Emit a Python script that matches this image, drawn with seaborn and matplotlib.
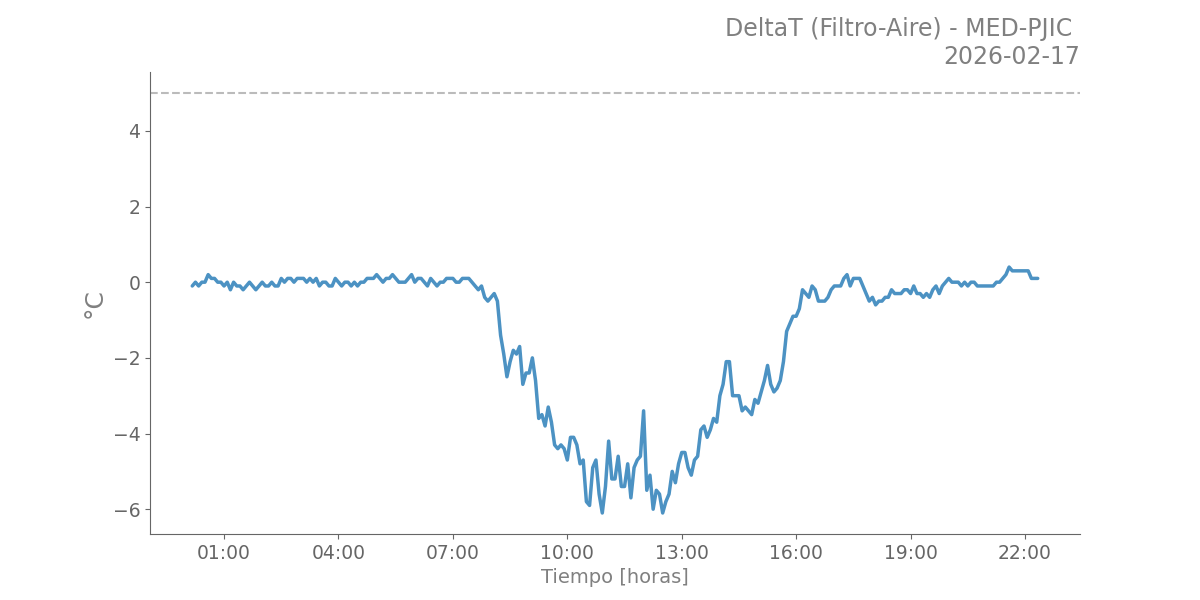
import pandas as pd
import matplotlib
matplotlib.use('Agg')
import matplotlib.pyplot as plt
import matplotlib.dates as mdates
import seaborn as sns

# Plot style settings
sns.set_style('ticks')
plt.rcParams['font.family'] = ['DejaVu Sans']

# Data: DeltaT (Filtro - Aire), one reading every 5 minutes from 00:10
start_time = '2026-02-17 00:10'
delta_t = [
    -0.1, 0, -0.1, 0, 0, 0.2, 0.1, 0.1, 0, 0,
    -0.1, 0, -0.2, 0, -0.1, -0.1, -0.2, -0.1, 0, -0.1,
    -0.2, -0.1, 0, -0.1, -0.1, 0, -0.1, -0.1, 0.1, 0,
    0.1, 0.1, 0, 0.1, 0.1, 0.1, 0, 0.1, 0, 0.1,
    -0.1, 0, 0, -0.1, -0.1, 0.1, 0, -0.1, 0, 0,
    -0.1, 0, -0.1, 0, 0, 0.1, 0.1, 0.1, 0.2, 0.1,
    0, 0.1, 0.1, 0.2, 0.1, 0, 0, 0, 0.1, 0.2,
    0, 0.1, 0.1, 0, -0.1, 0.1, 0, -0.1,
    0, 0, 0.1, 0.1, 0.1, 0, 0, 0.1, 0.1, 0.1, 0, -0.1,
    -0.2, -0.1, -0.4, -0.5, -0.4, -0.3, -0.5, -1.4, -1.9, -2.5,
    -2.1, -1.8, -1.9, -1.7, -2.7, -2.4, -2.4, -2.0, -2.6, -3.6,
    -3.5, -3.8, -3.3, -3.7, -4.3, -4.4,
    -4.3, -4.4, -4.7, -4.1, -4.1, -4.3, -4.8, -4.7, -5.8, -5.9,
    -4.9, -4.7, -5.6, -6.1, -5.4, -4.2, -5.2, -5.2, -4.6, -5.4,
    -5.4, -4.8, -5.7, -4.9, -4.7, -4.6, -3.4, -5.5, -5.1, -6.0,
    -5.5, -5.6, -6.1, -5.8, -5.6, -5.0, -5.3, -4.8, -4.5, -4.5,
    -4.9, -5.1, -4.7, -4.6, -3.9, -3.8, -4.1, -3.9, -3.6, -3.7,
    -3.0, -2.7, -2.1, -2.1, -3.0, -3.0, -3.0, -3.4, -3.3, -3.4,
    -3.5, -3.1, -3.2, -2.9, -2.6, -2.2, -2.7, -2.9, -2.8, -2.6,
    -2.1, -1.3, -1.1, -0.9, -0.9, -0.7, -0.2, -0.3, -0.4, -0.1,
    -0.2, -0.5, -0.5, -0.5, -0.4, -0.2, -0.1, -0.1, -0.1, 0.1,
    0.2, -0.1, 0.1, 0.1, 0.1, -0.1, -0.3, -0.5, -0.4, -0.6,
    -0.5, -0.5, -0.4, -0.4, -0.2, -0.3, -0.3, -0.3, -0.2, -0.2,
    -0.3, -0.1, -0.3, -0.3, -0.4, -0.3, -0.4, -0.2, -0.1, -0.3,
    -0.1, 0, 0.1, 0, 0, 0, -0.1, 0, -0.1, 0,
    0, -0.1, -0.1, -0.1, -0.1, -0.1, -0.1, 0, 0, 0.1,
    0.2, 0.4, 0.3, 0.3, 0.3, 0.3, 0.3, 0.3, 0.1, 0.1, 0.1,
]
limit = 5
title_text = 'DeltaT (Filtro-Aire) - MED-PJIC \n2026-02-17'

df = pd.DataFrame({
    'time': pd.date_range(start_time, periods=len(delta_t), freq='5min'),
    'delta_t': delta_t,
})

fig, ax = plt.subplots(figsize=(12, 6), dpi=100)
sns.lineplot(data=df, x='time', y='delta_t', ax=ax, color='#1f77b4', alpha=0.8, linewidth=2.5)
ax.axhline(limit, color='#bbbbbb', linestyle='--', linewidth=1.5)

ax.xaxis.set_major_locator(mdates.HourLocator(byhour=range(1, 24, 3)))
ax.xaxis.set_major_formatter(mdates.DateFormatter('%H:%M'))

ax.set_title(title_text, loc='right', fontsize=17, color='#808080')
ax.set_xlabel('Tiempo [horas]', fontsize=14, color='#808080')
ax.set_ylabel('°C', fontsize=18, color='#808080')
ax.tick_params(axis='both', labelsize=13.5, colors='#666666', labelcolor='#666666')

sns.despine(ax=ax)
for side in ['left', 'bottom']:
    ax.spines[side].set_color('#666666')

plt.savefig('out.png', dpi=100)
